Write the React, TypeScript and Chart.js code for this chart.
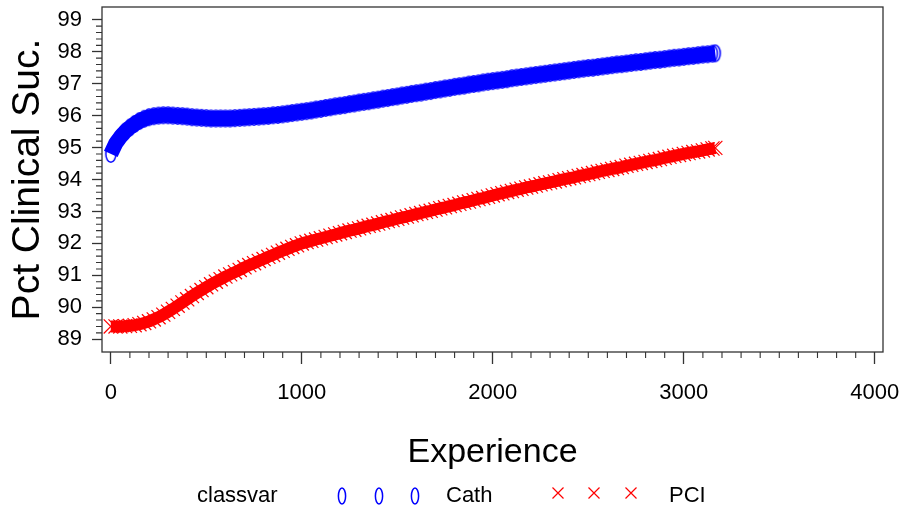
import React, { useEffect, useRef } from 'react';
import { Chart, registerables } from 'chart.js';

Chart.register(...registerables);

const EXPERIENCE = [
  0, 25, 50, 75, 100, 125, 150, 175, 200, 225, 250, 275, 300, 325, 350, 375, 400, 425, 450, 475,
  500, 525, 550, 575, 600, 625, 650, 675, 700, 725, 750, 775, 800, 825, 850, 875, 900, 925, 950, 975,
  1000, 1025, 1050, 1075, 1100, 1125, 1150, 1175, 1200, 1225, 1250, 1275, 1300, 1325, 1350, 1375, 1400, 1425, 1450, 1475,
  1500, 1525, 1550, 1575, 1600, 1625, 1650, 1675, 1700, 1725, 1750, 1775, 1800, 1825, 1850, 1875, 1900, 1925, 1950, 1975,
  2000, 2025, 2050, 2075, 2100, 2125, 2150, 2175, 2200, 2225, 2250, 2275, 2300, 2325, 2350, 2375, 2400, 2425, 2450, 2475,
  2500, 2525, 2550, 2575, 2600, 2625, 2650, 2675, 2700, 2725, 2750, 2775, 2800, 2825, 2850, 2875, 2900, 2925, 2950, 2975,
  3000, 3025, 3050, 3075, 3100, 3125, 3150, 3165,
];

const CATH = [
  94.8, 95.12, 95.33, 95.5, 95.63, 95.74, 95.83, 95.9, 95.95, 95.98, 96.0, 96.01, 96.01, 96.0, 95.99, 95.98, 95.97, 95.95, 95.94, 95.93,
  95.92, 95.91, 95.91, 95.91, 95.91, 95.91, 95.92, 95.93, 95.94, 95.95, 95.96, 95.97, 95.98, 95.99, 96.01, 96.02, 96.04, 96.06, 96.08, 96.1,
  96.12, 96.14, 96.16, 96.19, 96.21, 96.24, 96.26, 96.29, 96.31, 96.33, 96.36, 96.38, 96.41, 96.43, 96.45, 96.48, 96.5, 96.53, 96.55, 96.58,
  96.6, 96.63, 96.65, 96.68, 96.7, 96.72, 96.75, 96.77, 96.8, 96.82, 96.85, 96.87, 96.9, 96.92, 96.94, 96.97, 96.99, 97.01, 97.04, 97.06,
  97.08, 97.1, 97.12, 97.14, 97.17, 97.19, 97.21, 97.23, 97.25, 97.27, 97.29, 97.31, 97.33, 97.35, 97.37, 97.39, 97.41, 97.43, 97.45, 97.47,
  97.49, 97.5, 97.52, 97.54, 97.56, 97.58, 97.6, 97.61, 97.63, 97.65, 97.67, 97.68, 97.7, 97.72, 97.74, 97.75, 97.77, 97.79, 97.81, 97.82,
  97.84, 97.86, 97.87, 97.89, 97.91, 97.92, 97.94, 97.95,
];

const PCI = [
  89.4, 89.4, 89.4, 89.41, 89.42, 89.44, 89.47, 89.51, 89.56, 89.62, 89.69, 89.77, 89.86, 89.95, 90.05, 90.15, 90.25, 90.35, 90.45, 90.54,
  90.63, 90.72, 90.8, 90.88, 90.96, 91.03, 91.1, 91.17, 91.25, 91.32, 91.38, 91.45, 91.51, 91.58, 91.64, 91.71, 91.77, 91.83, 91.89, 91.94,
  92.0, 92.04, 92.08, 92.12, 92.16, 92.2, 92.24, 92.28, 92.32, 92.36, 92.4, 92.43, 92.47, 92.51, 92.55, 92.58, 92.62, 92.66, 92.7, 92.73,
  92.77, 92.81, 92.84, 92.88, 92.92, 92.95, 92.99, 93.02, 93.06, 93.1, 93.13, 93.17, 93.2, 93.24, 93.28, 93.31, 93.35, 93.39, 93.42, 93.46,
  93.5, 93.54, 93.57, 93.61, 93.64, 93.68, 93.71, 93.75, 93.78, 93.81, 93.85, 93.88, 93.91, 93.94, 93.98, 94.01, 94.04, 94.07, 94.11, 94.14,
  94.17, 94.2, 94.24, 94.27, 94.3, 94.33, 94.36, 94.39, 94.43, 94.46, 94.49, 94.52, 94.55, 94.58, 94.61, 94.64, 94.68, 94.71, 94.74, 94.77,
  94.8, 94.83, 94.86, 94.88, 94.91, 94.94, 94.97, 94.99,
];

const X_TICKS = [0, 1000, 2000, 3000, 4000];
const Y_TICKS = [89, 90, 91, 92, 93, 94, 95, 96, 97, 98, 99];
const X_MINOR_STEP = 100;
const Y_MINOR_STEP = 0.2;

const SERIES_NAMES = ['Cath', 'PCI'];
const LEGEND_TITLE = 'classvar';
const X_TITLE = 'Experience';
const Y_TITLE = 'Pct Clinical Suc.';

const FONT = '"Liberation Sans", Arial, sans-serif';
const BLUE = '#0000ff';
const RED = '#ff0000';
const AXIS = '#333333';

function makeOval(): HTMLCanvasElement {
  const c = document.createElement('canvas');
  c.width = 14;
  c.height = 22;
  const g = c.getContext('2d')!;
  g.strokeStyle = BLUE;
  g.lineWidth = 1.5;
  g.beginPath();
  g.ellipse(7, 11, 5.0, 8.2, 0, 0, Math.PI * 2);
  g.stroke();
  return c;
}

const framePlugin = {
  id: 'frameAndLegend',
  afterDraw(chart: any) {
    const { ctx, chartArea } = chart;
    const xs = chart.scales.x;
    const ys = chart.scales.y;
    ctx.save();
    ctx.strokeStyle = AXIS;
    ctx.lineWidth = 1.3;
    ctx.strokeRect(chartArea.left, chartArea.top, chartArea.right - chartArea.left, chartArea.bottom - chartArea.top);
    ctx.lineWidth = 1.1;
    ctx.beginPath();
    const x0 = X_TICKS[0];
    const x1 = X_TICKS[X_TICKS.length - 1];
    for (let v = x0; v <= x1 + 1e-9; v += X_MINOR_STEP) {
      if (X_TICKS.indexOf(Math.round(v)) >= 0) continue;
      const px = xs.getPixelForValue(v);
      ctx.moveTo(px, chartArea.bottom);
      ctx.lineTo(px, chartArea.bottom + 6);
    }
    const y0 = Y_TICKS[0];
    const y1 = Y_TICKS[Y_TICKS.length - 1];
    for (let i = 1; y0 + i * Y_MINOR_STEP < y1 - 1e-6; i++) {
      const v = y0 + i * Y_MINOR_STEP;
      if (Math.abs(v - Math.round(v)) < 1e-6) continue;
      const py = ys.getPixelForValue(v);
      ctx.moveTo(chartArea.left - 6, py);
      ctx.lineTo(chartArea.left, py);
    }
    ctx.stroke();

    const ly = 496;
    ctx.fillStyle = '#000';
    ctx.font = '22px ' + FONT;
    ctx.textBaseline = 'middle';
    ctx.textAlign = 'left';
    ctx.fillText(LEGEND_TITLE, 197, ly);
    ctx.strokeStyle = BLUE;
    ctx.lineWidth = 1.5;
    [342, 379, 415].forEach((cx) => {
      ctx.beginPath();
      ctx.ellipse(cx, ly, 3.6, 8, 0, 0, Math.PI * 2);
      ctx.stroke();
    });
    ctx.fillText(SERIES_NAMES[0], 446, ly);
    ctx.strokeStyle = RED;
    ctx.lineWidth = 1.2;
    [558, 594, 631].forEach((cx) => {
      ctx.beginPath();
      ctx.moveTo(cx - 5.5, ly - 5.5 - 3);
      ctx.lineTo(cx + 5.5, ly + 5.5 - 3);
      ctx.moveTo(cx + 5.5, ly - 5.5 - 3);
      ctx.lineTo(cx - 5.5, ly + 5.5 - 3);
      ctx.stroke();
    });
    ctx.fillText(SERIES_NAMES[1], 669, ly);
    ctx.restore();
  },
};

export default function App() {
  const ref = useRef<HTMLCanvasElement | null>(null);

  useEffect(() => {
    if (!ref.current) return;
    const oval = makeOval();
    const chart = new Chart(ref.current, {
      type: 'scatter',
      data: {
        datasets: [
          {
            label: SERIES_NAMES[1],
            data: EXPERIENCE.map((x, i) => ({ x, y: PCI[i] })),
            pointStyle: 'crossRot',
            pointRadius: 10,
            pointBorderWidth: 1.2,
            pointBorderColor: RED,
            pointBackgroundColor: RED,
            showLine: true,
            borderColor: RED,
            borderWidth: 12,
            borderCapStyle: 'butt',
            borderJoinStyle: 'round',
          },
          {
            label: SERIES_NAMES[0],
            data: EXPERIENCE.map((x, i) => ({ x, y: CATH[i] })),
            pointStyle: oval as any,
            pointRadius: 6,
            pointBorderColor: BLUE,
            pointBackgroundColor: 'rgba(0,0,0,0)',
            showLine: true,
            borderColor: BLUE,
            borderWidth: 15,
            borderCapStyle: 'butt',
            borderJoinStyle: 'round',
          },
        ],
      },
      options: {
        animation: false,
        responsive: true,
        maintainAspectRatio: false,
        events: [],
        layout: { autoPadding: false, padding: { left: 0, top: 7, right: 17, bottom: 0 } },
        plugins: {
          legend: { display: false },
          tooltip: { enabled: false },
          title: { display: false },
        },
        scales: {
          x: {
            type: 'linear',
            min: -46,
            max: 4043,
            afterBuildTicks: (s: any) => {
              s.ticks = X_TICKS.map((v) => ({ value: v }));
            },
            afterFit: (s: any) => {
              s.height = 159;
              s.paddingLeft = 0;
              s.paddingRight = 0;
              s.paddingTop = 0;
              s.paddingBottom = 0;
            },
            ticks: {
              autoSkip: false,
              maxRotation: 0,
              color: '#000',
              padding: 16,
              font: { family: FONT, size: 22 },
              callback: (v: any) => String(v),
            },
            grid: {
              drawOnChartArea: false,
              drawTicks: true,
              tickLength: 12,
              tickColor: AXIS,
              tickWidth: 1.3,
            },
            border: { display: false },
            title: {
              display: true,
              text: X_TITLE,
              color: '#000',
              font: { family: FONT, size: 34 },
              padding: { top: 0, bottom: 38 },
            },
          },
          y: {
            type: 'linear',
            min: 88.6,
            max: 99.4,
            afterBuildTicks: (s: any) => {
              s.ticks = Y_TICKS.map((v) => ({ value: v }));
            },
            afterFit: (s: any) => {
              s.width = 102;
              s.paddingLeft = 0;
              s.paddingRight = 0;
              s.paddingTop = 0;
              s.paddingBottom = 0;
            },
            ticks: {
              autoSkip: false,
              color: '#000',
              padding: 10,
              font: { family: FONT, size: 22 },
              callback: (v: any) => String(v),
            },
            grid: {
              drawOnChartArea: false,
              drawTicks: true,
              tickLength: 10,
              tickColor: AXIS,
              tickWidth: 1.3,
            },
            border: { display: false },
            title: {
              display: true,
              text: Y_TITLE,
              color: '#000',
              font: { family: FONT, size: 39 },
              padding: { top: 5, bottom: 0 },
            },
          },
        },
      },
      plugins: [framePlugin],
    });
    return () => chart.destroy();
  }, []);

  return (
    <div style={{ position: 'absolute', left: 0, top: 0, width: 900, height: 511, background: '#fff' }}>
      <canvas ref={ref} />
    </div>
  );
}
